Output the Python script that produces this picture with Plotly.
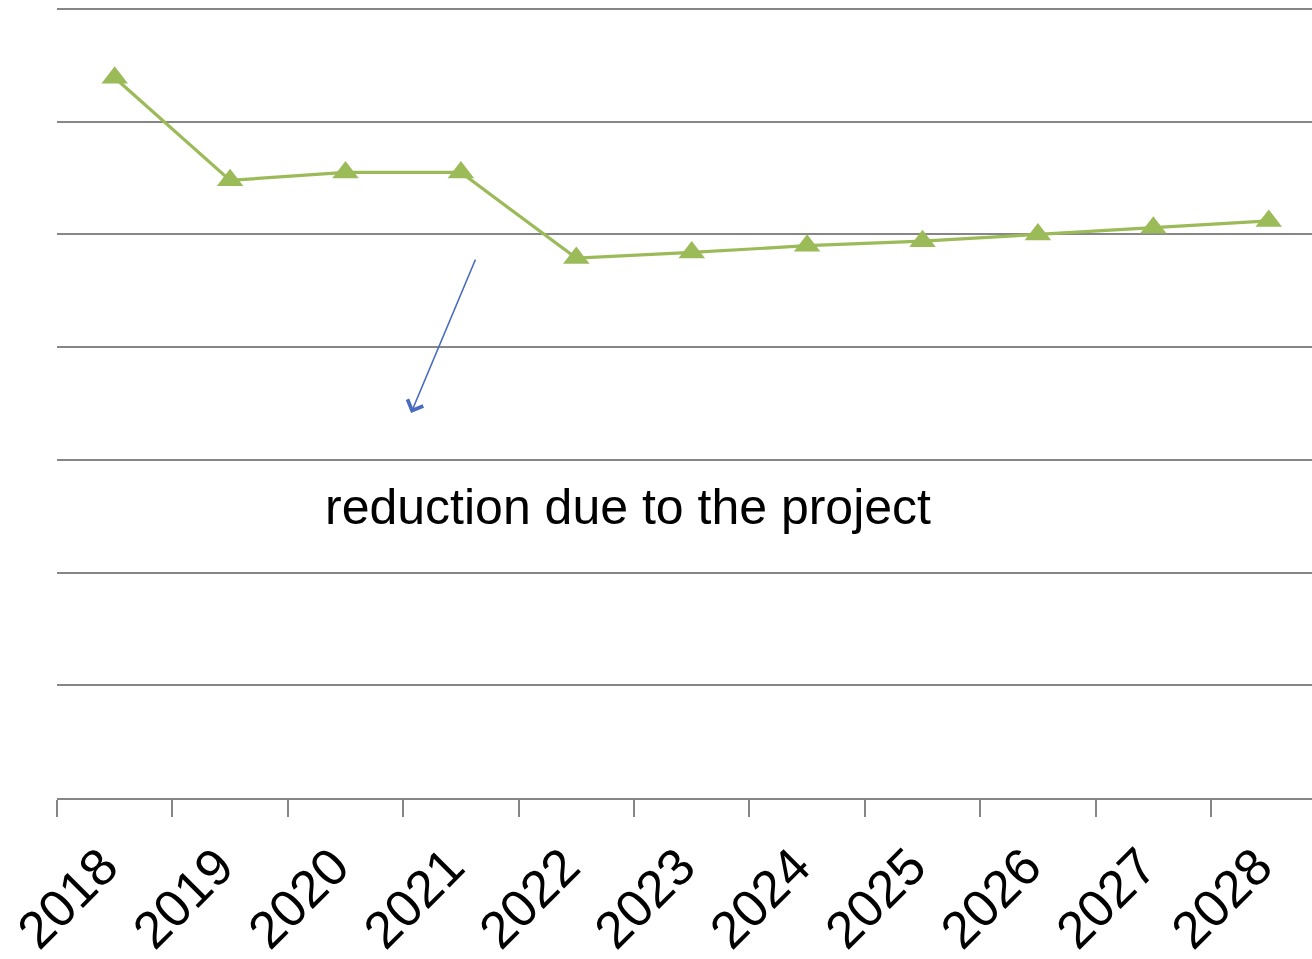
import plotly.graph_objects as go

years = ["2018", "2019", "2020", "2021", "2022", "2023", "2024", "2025", "2026", "2027", "2028"]
values = [6.39, 5.48, 5.55, 5.55, 4.79, 4.84, 4.90, 4.94, 5.00, 5.06, 5.12]

annot_text = "reduction due to the project"

fig = go.Figure()
fig.add_trace(go.Scatter(
    x=years, y=values, mode="lines+markers",
    line=dict(color="#9bbb59", width=3.2),
    marker=dict(symbol="triangle-up", size=23, color="#9bbb59"),
    showlegend=False,
))

fig.add_annotation(
    x=2.568, y=3.416, ax=3.131, ay=4.79, xref="x", yref="y", axref="x", ayref="y",
    text="", showarrow=True, arrowhead=4, arrowsize=2.2, arrowwidth=1.5, arrowcolor="#4a6cc0",
)
fig.add_annotation(
    x=4.448, y=2.58, xref="x", yref="y", text=annot_text, showarrow=False,
    font=dict(family="Liberation Sans, Arial", size=50, color="#000000"),
)

fig.update_layout(
    width=1312, height=959,
    margin=dict(l=57, r=0, t=0, b=161),
    paper_bgcolor="white", plot_bgcolor="white",
    xaxis=dict(
        type="category", range=[-0.5, 10.375], tickson="boundaries",
        ticks="outside", ticklen=17, tickwidth=2, tickcolor="#868686",
        showline=True, linecolor="#868686", linewidth=2,
        showgrid=False, tickangle=-45, automargin=False,
        ticklabelstandoff=15, ticklabelshift=-12,
        tickfont=dict(family="Liberation Sans, Arial", size=52, color="#000000"),
    ),
    yaxis=dict(
        range=[0, 7.08], dtick=1, showticklabels=False, showgrid=True,
        gridcolor="#868686", gridwidth=2, zeroline=False, showline=False,
        automargin=False,
    ),
)

fig.write_html("out.html", config={"displayModeBar": False},
               post_script="document.body.style.margin='0';")
